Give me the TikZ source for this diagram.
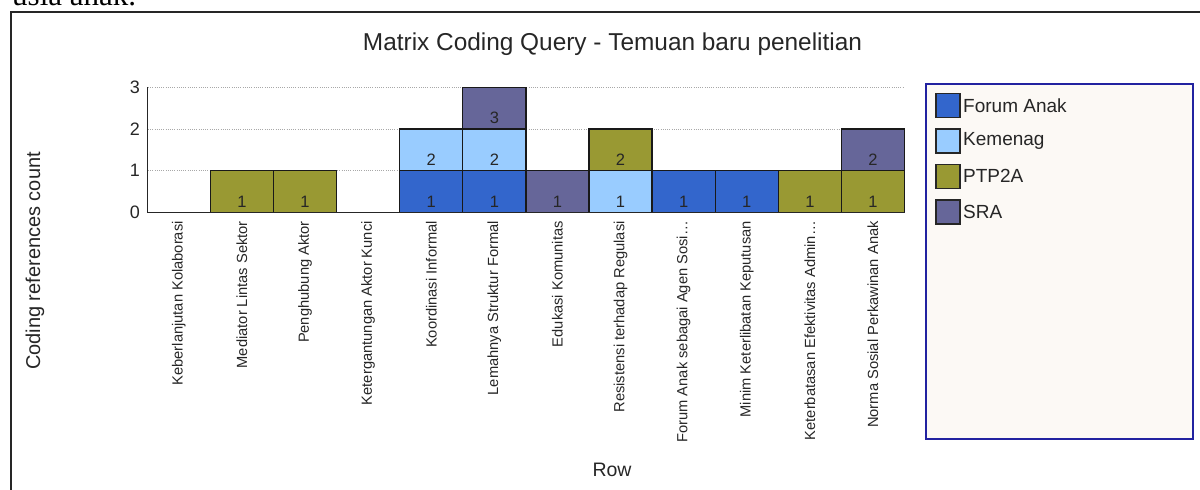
\documentclass[tikz,border=0pt]{standalone}
\usepackage{fontspec}
\setmainfont{Liberation Sans}
\newfontfamily\serifcut{Liberation Serif}
\definecolor{cforum}{HTML}{3366CC}
\definecolor{ckem}{HTML}{99CCFF}
\definecolor{cptp}{HTML}{999933}
\definecolor{csra}{HTML}{666699}
\definecolor{legfill}{HTML}{FCF9F5}
\definecolor{legdraw}{HTML}{2222A0}
\definecolor{gridgray}{HTML}{A8A8A8}
\tikzset{
  barseg/.style={draw=black!90, line width=1.3pt},
  barlbl/.style={inner sep=0pt, font=\fontsize{16.5}{18}\selectfont, text=black!85},
  catlbl/.style={rotate=90, anchor=east, inner sep=0pt, font=\fontsize{14.7}{16}\selectfont, text=black!85},
  ticklbl/.style={anchor=east, inner sep=0pt, font=\fontsize{18}{20}\selectfont, text=black!85},
  gridln/.style={gridgray, line width=0.8pt, dash pattern=on 1pt off 1.2pt},
  legsq/.style={draw=black!85, line width=1.5pt, minimum width=24pt, minimum height=24pt, inner sep=0pt},
  legtxt/.style={anchor=west, inner sep=0pt, font=\fontsize{19}{21}\selectfont, text=black!85},
}
\begin{document}
\begin{tikzpicture}[x=1pt, y=-1pt]
\useasboundingbox (0,0) rectangle (1200,490);
\clip (0,0) rectangle (1200,490);
% cut-off text above the frame
\node[anchor=base west, inner sep=0pt, font=\serifcut\fontsize{31}{34}\selectfont] (cuttext) at (12,5) {usia anak.};
% outer frame (left and top edges visible)
\draw[black!85, line width=1.5pt] (11,495) -- (11,12) -- (1205,12);
% title
\node[inner sep=0pt, font=\fontsize{24.4}{28}\selectfont, text=black!85] (title) at (612.5,44) {Matrix Coding Query - Temuan baru penelitian};
% axis titles
\node[rotate=90, inner sep=0pt, font=\fontsize{20}{22}\selectfont, text=black!85] (ytitle) at (35,261) {Coding references count};
\node[inner sep=0pt, font=\fontsize{19.5}{22}\selectfont, text=black!85] (xtitle) at (612,470) {Row};
% gridlines
\foreach \v in {1,2,3} {
  \pgfmathsetmacro\gy{212.5-41.7*\v}
  \draw[gridln] (148,\gy) -- (903,\gy);
}
% tick labels
\foreach \v in {0,1,2,3} {
  \pgfmathsetmacro\gy{212.5-41.7*\v}
  \node[ticklbl] (tick\v) at (140,\gy) {\v};
}
% bars: column / bottom / top / colour
\foreach \c/\b/\t/\col in {1/0/1/cptp, 2/0/1/cptp, 4/0/1/cforum, 4/1/2/ckem,
  5/0/1/cforum, 5/1/2/ckem, 5/2/3/csra, 6/0/1/csra, 7/0/1/ckem, 7/1/2/cptp,
  8/0/1/cforum, 9/0/1/cforum, 10/0/1/cptp, 11/0/1/cptp, 11/1/2/csra} {
  \pgfmathsetmacro\xa{147.3+63.1*\c}
  \pgfmathsetmacro\xb{147.3+63.1*(\c+1)}
  \pgfmathsetmacro\xm{147.3+63.1*(\c+0.5)}
  \pgfmathsetmacro\ya{212.5-41.7*\b}
  \pgfmathsetmacro\yb{212.5-41.7*\t}
  \pgfmathsetmacro\yl{212.5-41.7*\b-11}
  \draw[barseg, fill=\col] (\xa,\ya) rectangle (\xb,\yb);
  \node[barlbl] (seg\c-\t) at (\xm,\yl) {\t};
}
% axes
\draw[black!85, line width=1.5pt] (147.3,87) -- (147.3,212.5) -- (905,212.5);
% category labels
\foreach \c/\txt in {0/{Keberlanjutan Kolaborasi}, 1/{Mediator Lintas Sektor}, 2/{Penghubung Aktor},
  3/{Ketergantungan Aktor Kunci}, 4/{Koordinasi Informal}, 5/{Lemahnya Struktur Formal},
  6/{Edukasi Komunitas}, 7/{Resistensi terhadap Regulasi}, 8/{Forum Anak sebagai Agen Sosi\ldots},
  9/{Minim Keterlibatan Keputusan}, 10/{Keterbatasan Efektivitas Admin\ldots}, 11/{Norma Sosial Perkawinan Anak}} {
  \pgfmathsetmacro\xm{147.3+63.1*(\c+0.5)}
  \node[catlbl] (cat\c) at (\xm,221) {\txt};
}
% legend
\draw[legdraw, fill=legfill, line width=2pt] (926,84) rectangle (1193,439);
\foreach \i/\col/\txt in {0/cforum/Forum Anak, 1/ckem/Kemenag, 2/cptp/PTP2A, 3/csra/SRA} {
  \pgfmathsetmacro\ly{105.3+35.5*\i}
  \node[legsq, fill=\col] (legsq\i) at (948,\ly) {};
  \node[legtxt] (legtxt\i) at (963,\ly) {\txt};
}
\end{tikzpicture}
\end{document}
